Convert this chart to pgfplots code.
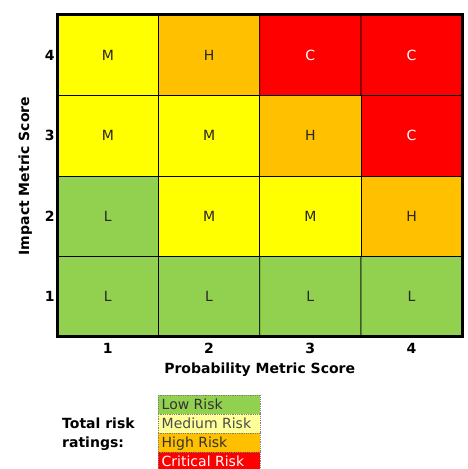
\documentclass[border=0pt]{standalone}
\usepackage{fontspec}
\setmainfont{DejaVu Sans}
\usepackage{pgfplots}
\pgfplotsset{compat=1.18}
\usepackage{pgfplotstable}

\definecolor{lowrisk}{RGB}{146,208,80}
\definecolor{medrisk}{RGB}{255,255,0}
\definecolor{medlegend}{RGB}{255,255,153}
\definecolor{highrisk}{RGB}{255,192,0}
\definecolor{critrisk}{RGB}{255,0,0}

% risk level per cell: 0 low, 1 medium, 2 high, 3 critical
\pgfplotstableread{
x y c
1 1 0
2 1 0
3 1 0
4 1 0
1 2 0
2 2 1
3 2 1
4 2 2
1 3 1
2 3 1
3 3 2
4 3 3
1 4 1
2 4 2
3 4 3
4 4 3
}\cells

\pgfplotstableread{
x y t
1 1 L
2 1 L
3 1 L
4 1 L
1 2 L
2 2 M
3 2 M
4 2 H
1 3 M
2 3 M
3 3 H
1 4 M
2 4 H
}\darklabels

\pgfplotstableread{
x y t
4 3 C
3 4 C
4 4 C
}\whitelabels

\begin{document}
\begin{tikzpicture}[x=1pt,y=1pt]
\useasboundingbox (0,0) rectangle (468,469);
\begin{axis}[
    at={(56.5,164)}, anchor=south west,
    scale only axis, width=405pt, height=322pt,
    xmin=0.5, xmax=4.5, ymin=0.5, ymax=4.5,
    xtick={1,2,3,4}, ytick={1,2,3,4},
    major tick length=0pt,
    axis line style={line width=3pt},
    axis on top,
    /pgf/number format/assume math mode=true,
    ticklabel style={font=\bfseries\fontsize{14}{16}\selectfont},
    xticklabel style={yshift=-3pt},
    yticklabel style={xshift=1pt},
    xlabel={Probability Metric Score},
    ylabel={Impact Metric Score},
    label style={font=\bfseries\fontsize{14}{16}\selectfont},
    xlabel style={yshift=-2pt},
    ylabel style={yshift=6pt},
    colormap={risk}{rgb255=(146,208,80) rgb255=(255,255,0) rgb255=(255,192,0) rgb255=(255,0,0)},
    colormap access=direct,
]
\addplot[matrix plot*, mesh/cols=4, point meta=explicit, draw=black, line width=0.9pt]
    table[meta=c] {\cells};
\addplot[draw=none, mark=none, point meta=explicit symbolic,
    nodes near coords, nodes near coords align=center,
    every node near coord/.append style={font=\fontsize{14}{16}\selectfont, text=black!85, anchor=center}]
    table[meta=t] {\darklabels};
\addplot[draw=none, mark=none, point meta=explicit symbolic,
    nodes near coords, nodes near coords align=center,
    every node near coord/.append style={font=\fontsize{14}{16}\selectfont, text=white, anchor=center}]
    table[meta=t] {\whitelabels};
\end{axis}

% legend of risk ratings
\begin{scope}[font=\fontsize{14}{16}\selectfont]
\foreach \col/\txt/\tc/\top in {lowrisk/Low Risk/black!80/74, medlegend/Medium Risk/black!70/55, highrisk/High Risk/black!80/36, critrisk/Critical Risk/white/17} {
  \path[fill=\col, draw=gray, densely dotted, line width=0.8pt] (158.3,\top) rectangle (260,\top-19);
  \node[anchor=base west, inner sep=0pt, text=\tc] at (161.5,\top-15) {\txt};
}
\node[anchor=base west, inner sep=0pt, font=\bfseries\fontsize{14}{16}\selectfont] at (62,41) {Total risk};
\node[anchor=base west, inner sep=0pt, font=\bfseries\fontsize{14}{16}\selectfont] at (62,21.5) {ratings:};
\end{scope}
\end{tikzpicture}
\end{document}
